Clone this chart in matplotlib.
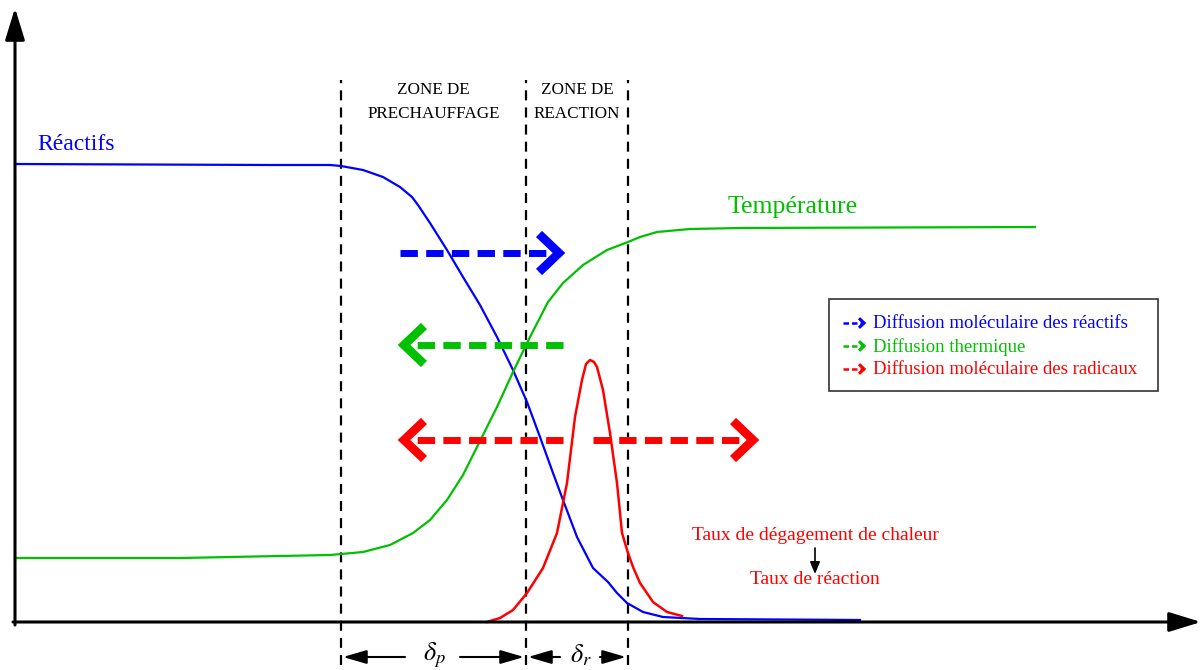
import matplotlib.pyplot as plt
from matplotlib.patches import Rectangle

plt.rcParams['font.family'] = ['Liberation Serif', 'DejaVu Serif']
plt.rcParams['mathtext.fontset'] = 'stix'

# curves (x = distance from the vertical axis, y = height above the horizontal axis)
reactifs_x = [0, 255, 315, 326, 348, 368, 385, 397, 403, 415, 432, 448, 465, 482, 498, 512,
              525, 538, 548, 562, 578, 593, 602, 612, 628, 648, 685, 845]
reactifs_y = [458, 457, 457, 456, 452, 445, 435, 425, 417, 399, 372, 345, 317, 285, 252, 220,
              185, 149, 122, 85, 54, 40, 29, 19, 10, 5, 3, 2]

temp_x = [0, 165, 315, 348, 375, 398, 415, 432, 448, 462, 482, 498, 515, 533, 548, 568,
          592, 613, 625, 642, 675, 725, 1020]
temp_y = [64, 64, 67, 70, 77, 89, 102, 122, 147, 175, 215, 250, 285, 320, 339, 357,
          372, 380, 385, 390, 393, 394, 395]

taux_x = [472, 485, 498, 512, 528, 542, 552, 560, 567, 571, 575, 579, 582, 588, 595, 602,
          607, 613, 618, 625, 638, 652, 667]
taux_y = [0, 4, 12, 29, 54, 89, 139, 205, 242, 258, 262, 260, 255, 232, 189, 139,
          89, 69, 55, 39, 20, 10, 6]

zones = [326, 511, 613]  # limites des zones
zone_labels = ['ZONE DE\nPRECHAUFFAGE', 'ZONE DE\nREACTION']
legend_labels = ['Diffusion moléculaire des réactifs', 'Diffusion thermique',
                 'Diffusion moléculaire des radicaux']

BLUE = '#0000ff'
GREEN = '#00c000'
RED = '#ff0000'

fig = plt.figure(figsize=(12.03, 6.70), dpi=100)
ax = fig.add_axes([0, 0, 1, 1])
ax.set_xlim(-15, 1188)
ax.set_ylim(-48, 622)
ax.axis('off')

# axes with arrows
ax.annotate('', xy=(0, 614), xytext=(0, -3),
            arrowprops=dict(arrowstyle='-|>,head_length=1.3,head_width=0.4', color='black',
                            lw=2.2, mutation_scale=15, shrinkA=0, shrinkB=0))
ax.annotate('', xy=(1186, 0), xytext=(-2, 0),
            arrowprops=dict(arrowstyle='-|>,head_length=1.3,head_width=0.4', color='black',
                            lw=2.2, mutation_scale=15, shrinkA=0, shrinkB=0))

# zone limits
for xz in zones:
    ax.plot([xz, xz], [-43, 542], color='black', lw=1.6, ls=(0, (4.5, 3.2)))

ax.text((zones[0] + zones[1]) / 2, 520, zone_labels[0], ha='center', va='center',
        fontsize=12.3, linespacing=1.6)
ax.text((zones[1] + zones[2]) / 2, 520, zone_labels[1], ha='center', va='center',
        fontsize=12.3, linespacing=1.6)

# curves
ax.plot(reactifs_x, reactifs_y, color=BLUE, lw=1.6)
ax.plot(temp_x, temp_y, color=GREEN, lw=1.6)
ax.plot(taux_x, taux_y, color=RED, lw=1.8)

ax.text(22, 478, 'Réactifs', color=BLUE, fontsize=17, ha='left', va='center')
ax.text(713, 415, 'Température', color=GREEN, fontsize=18.5, ha='left', va='center')


def dashed_arrow(x0, x1, y, color, lw=5, head=20, dash=(2.5, 1.2)):
    # dashed shaft + open chevron head pointing to x1
    ax.plot([x0, x1], [y, y], color=color, lw=lw, ls=(0, dash), solid_capstyle='butt',
            dash_capstyle='butt')
    d = head if x1 > x0 else -head
    ax.plot([x1 - d, x1, x1 - d], [y + abs(head) * 0.95, y, y - abs(head) * 0.95],
            color=color, lw=lw * 1.25, solid_joinstyle='miter', solid_capstyle='butt')


dashed_arrow(385, 544, 369, BLUE)
dashed_arrow(548, 389, 277, GREEN)
dashed_arrow(548, 389, 182, RED)
dashed_arrow(578, 738, 182, RED)

# legend
ax.add_patch(Rectangle((814, 231), 329, 92, fill=False, edgecolor='#333333', lw=1.2))
for i, (lab, col) in enumerate(zip(legend_labels, [BLUE, GREEN, RED])):
    yy = 299 - i * 23
    dashed_arrow(828, 849, yy, col, lw=1.8, head=5, dash=(2.2, 1.2))
    ax.text(858, yy - 1, lab, color=col, fontsize=13.5, ha='left', va='center')

# taux de reaction
ax.text(800, 87, 'Taux de dégagement de chaleur', color=RED, fontsize=14,
        ha='center', va='center')
ax.annotate('', xy=(800, 48), xytext=(800, 74),
            arrowprops=dict(arrowstyle='-|>,head_length=0.6,head_width=0.25', color='black',
                            lw=1.2, mutation_scale=12, shrinkA=0, shrinkB=0))
ax.text(800, 42, 'Taux de réaction', color=RED, fontsize=14, ha='center', va='center')

# epaisseurs
dim = dict(arrowstyle='-|>,head_length=1.2,head_width=0.35', color='black', lw=1.5,
           mutation_scale=12, shrinkA=0, shrinkB=0)
ax.annotate('', xy=(328, -35), xytext=(390, -35), arrowprops=dim)
ax.annotate('', xy=(509, -35), xytext=(445, -35), arrowprops=dim)
ax.annotate('', xy=(513, -35), xytext=(545, -35), arrowprops=dim)
ax.annotate('', xy=(611, -35), xytext=(585, -35), arrowprops=dim)
ax.text(419, -33, r'$\delta_p$', fontsize=19, ha='center', va='center')
ax.text(566, -33, r'$\delta_r$', fontsize=19, ha='center', va='center')

fig.savefig('out.png', dpi=100)
